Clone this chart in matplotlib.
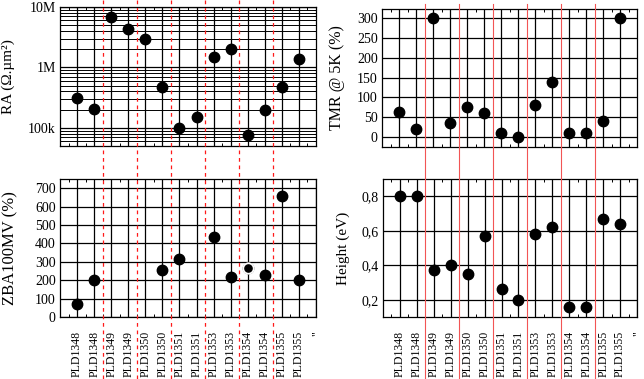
import numpy as np
import matplotlib
matplotlib.use('Agg')
import matplotlib.pyplot as plt
from matplotlib.lines import Line2D
from matplotlib.transforms import blended_transform_factory
from matplotlib.ticker import FixedLocator, NullFormatter

plt.rcParams['font.family'] = ['Liberation Serif', 'DejaVu Serif']
plt.rcParams['font.size'] = 10

# echantillons (deux mesures par wafer)
samples = ['PLD1348', 'PLD1348', 'PLD1349', 'PLD1349', 'PLD1350', 'PLD1350',
           'PLD1351', 'PLD1351', 'PLD1353', 'PLD1353', 'PLD1354', 'PLD1354',
           'PLD1355', 'PLD1355']
end_label = '"'

ra = [3.1e5, 2.05e5, 6.75e6, 4.3e6, 3.0e6, 4.8e5, 1.0e5, 1.53e5,
      1.5e6, 2.05e6, 7.5e4, 2.0e5, 4.8e5, 1.37e6]
tmr = [64, 20, 300, 35, 75, 60, 10, 0, 80, 140, 10, 10, 40, 300]
zba = [72, 200, np.nan, np.nan, np.nan, 255, 313, np.nan,
       436, 219, 266, 230, 657, 201]
height = [0.80, 0.80, 0.37, 0.40, 0.35, 0.57, 0.26, 0.20,
          0.58, 0.62, 0.16, 0.16, 0.67, 0.64]

x = np.arange(1, len(samples) + 1)
# limites entre wafers
seps = [i + 1.5 for i in range(len(samples) - 1) if samples[i] != samples[i + 1]]

fig = plt.figure(figsize=(6.44, 3.79), dpi=100)
ax1 = fig.add_axes([0.0932, 0.6148, 0.3975, 0.3668])
ax2 = fig.add_axes([0.5932, 0.6121, 0.396, 0.3641])
ax3 = fig.add_axes([0.0932, 0.1636, 0.3975, 0.3641])
ax4 = fig.add_axes([0.5947, 0.1636, 0.3945, 0.3641])


def style(ax):
    ax.set_xlim(0, 15)
    ax.set_xticks(x)
    ax.xaxis.set_minor_locator(FixedLocator(np.arange(0.5, 15, 1)))
    ax.tick_params(which='both', direction='in', top=True, right=True,
                   length=2.5, width=0.7, pad=3)
    ax.tick_params(which='major', length=0)
    ax.grid(True, which='major', color='black', lw=0.9)
    for s in ax.spines.values():
        s.set_linewidth(0.9)
    ax.set_axisbelow(True)


# RA
ax1.set_yscale('log')
ax1.set_ylim(5e4, 1e7)
style(ax1)
ax1.grid(True, which='minor', axis='y', color='black', lw=0.7)
ax1.set_yticks([1e5, 1e6, 1e7])
ax1.set_yticklabels(['100k', '1M', '10M'])
ax1.yaxis.set_minor_formatter(NullFormatter())
ax1.set_xticklabels([])
ax1.plot(x, ra, 'o', color='black', ms=7.5)
ax1.set_ylabel('RA (Ω.µm²)', fontsize=11)
ax1.yaxis.set_label_coords(-0.176, 0.5)

# TMR
ax2.set_ylim(-25, 323)
style(ax2)
ax2.set_yticks(np.arange(0, 301, 50))
ax2.set_xticklabels([])
ax2.plot(x, tmr, 'o', color='black', ms=7.5)
ax2.set_ylabel('TMR @ 5K (%)', fontsize=11.5)
ax2.yaxis.set_label_coords(-0.145, 0.5)

# ZBA
ax3.set_ylim(0, 750)
style(ax3)
ax3.set_yticks(np.arange(0, 701, 100))
ax3.plot(x, zba, 'o', color='black', ms=7.5)
ax3.plot(x[10], zba[10], 'o', color='white', ms=7.8)
ax3.plot(x[10], zba[10], 'o', color='black', ms=5.2)
ax3.set_ylabel('ZBA100MV (%)', fontsize=12)
ax3.yaxis.set_label_coords(-0.164, 0.5)

# Height
ax4.set_ylim(0.1, 0.9)
style(ax4)
ax4.set_yticks([0.2, 0.4, 0.6, 0.8])
ax4.set_yticklabels(['0,2', '0,4', '0,6', '0,8'])
ax4.plot(x, height, 'o', color='black', ms=7.5)
ax4.set_ylabel('Height (eV)', fontsize=11)
ax4.yaxis.set_label_coords(-0.128, 0.5)

for ax in (ax3, ax4):
    ax.set_xticks(list(x) + [15])
    ax.set_xticklabels(samples + [end_label], rotation=90, fontsize=8.5)
    ax.tick_params(axis='x', which='major', pad=10)

# lignes rouges de separation sur toute la hauteur
for s in seps:
    t = blended_transform_factory(ax1.transData, fig.transFigure)
    fig.add_artist(Line2D([s, s], [1.0, 0.0], transform=t, color='#ff1a1a',
                          lw=0.9, ls=(0, (3, 3))))
    t = blended_transform_factory(ax2.transData, fig.transFigure)
    fig.add_artist(Line2D([s, s], [0.99, 0.0], transform=t, color='#f25555',
                          lw=0.8))

fig.savefig('out.png', dpi=100)
